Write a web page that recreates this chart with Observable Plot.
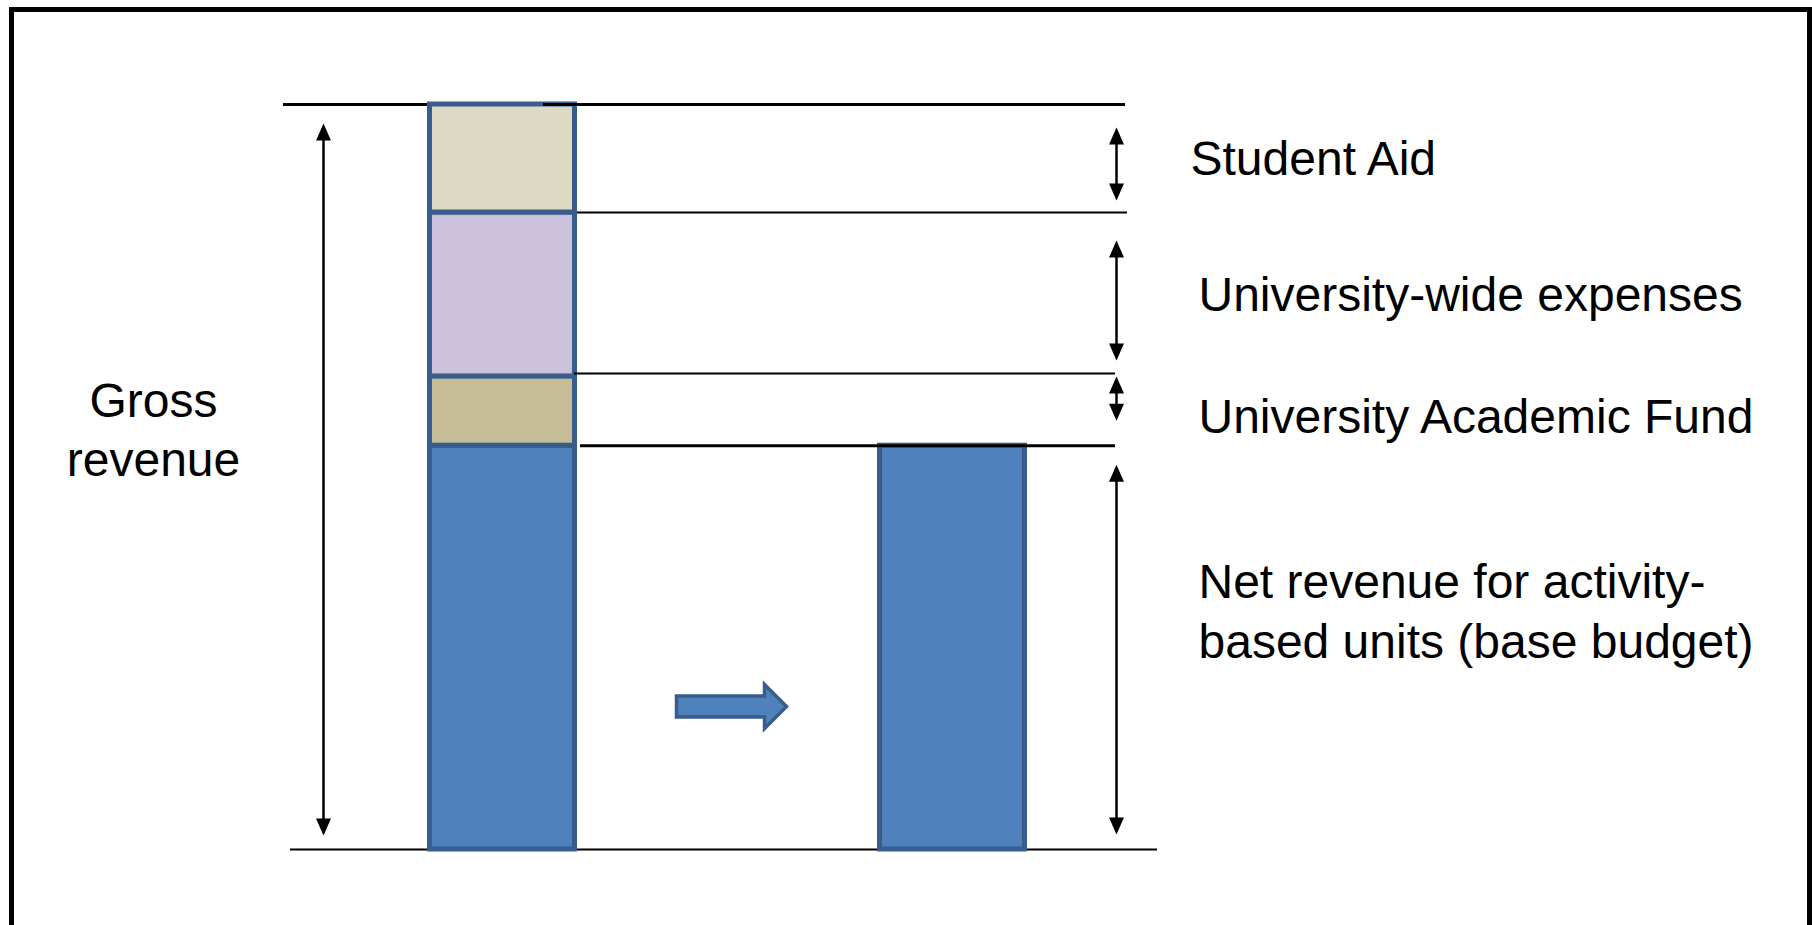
<!DOCTYPE html>
<html>
<head>
<meta charset="utf-8">
<script src="https://cdn.jsdelivr.net/npm/d3@7"></script>
<script src="https://cdn.jsdelivr.net/npm/@observablehq/plot@0.6"></script>
<style>
  html, body { margin: 0; padding: 0; background: #fff; overflow: hidden; }
  #slide { position: absolute; left: 9px; top: 7px; width: 1803px; height: 1000px; box-sizing: border-box; border: 5px solid #000; }
  #chart { position: absolute; left: 0; top: 0; }
</style>
</head>
<body>
<div id="slide"></div>
<div id="chart"></div>
<script>
// Columns of the diagram: the gross revenue stack, the transfer arrow, the net bar
const columns = ["Gross revenue", "Transfer", "Net revenue"];

// Components of gross revenue, bottom to top (share of gross revenue, %)
const segments = ["Net revenue", "University Academic Fund", "University-wide expenses", "Student Aid"];
const shares = [54.2, 9.3, 22.0, 14.5];
const segmentLabels = [
  "Net revenue for activity-\nbased units (base budget)",
  "University Academic Fund",
  "University-wide expenses",
  "Student Aid"
];
const grossLabel = "Gross\nrevenue";

// Fill colours of the segments, in the same order
const palette = ["#4F81BD", "#C4BD97", "#CCC1DA", "#DDD9C3"];
const outline = "#385D8A";

const total = d3.sum(shares);
const tops = Array.from(d3.cumsum(shares));
const bottoms = [0, ...tops.slice(0, -1)];

const stackRows = segments.map((segment, i) => ({column: columns[0], segment, share: shares[i]}));
const netRow = {column: columns[2], segment: segments[0], share: shares[0]};

// Filled arrowhead, tip at the origin, pointing up
const arrowHead = {
  draw(ctx) {
    ctx.moveTo(0, 0);
    ctx.lineTo(7.5, 17);
    ctx.lineTo(-7.5, 17);
    ctx.closePath();
  }
};

// Block arrow pointing right, centred on the origin
const blockArrow = {
  draw(ctx) {
    ctx.moveTo(-55, -10.5);
    ctx.lineTo(33, -10.5);
    ctx.lineTo(33, -22);
    ctx.lineTo(55, 0);
    ctx.lineTo(33, 22);
    ctx.lineTo(33, 10.5);
    ctx.lineTo(-55, 10.5);
    ctx.closePath();
  }
};

// Horizontal guide line at a value, extended beyond the plot area by insets
const guide = (y, insetLeft, insetRight, strokeWidth, dy = 0) =>
  Plot.ruleY([y], {insetLeft, insetRight, strokeWidth, dy, stroke: "#000"});

// Double-headed dimension arrows spanning a range of the stack
const spans = [
  {column: columns[0], lo: 0, hi: total, dx: -179, top: 19, bottom: 14},
  {column: columns[2], lo: bottoms[3], hi: tops[3], dx: 164, top: 23, bottom: 12},
  {column: columns[2], lo: bottoms[2], hi: tops[2], dx: 164, top: 28, bottom: 16},
  {column: columns[2], lo: bottoms[1], hi: tops[1], dx: 164, top: 0, bottom: 25},
  {column: columns[2], lo: bottoms[0], hi: tops[0], dx: 164, top: 19, bottom: 15}
];
const dimension = (s) => [
  Plot.ruleX([s], {x: "column", y1: "hi", y2: "lo", dx: s.dx, insetTop: s.top + 4, insetBottom: s.bottom + 4, stroke: "#000", strokeWidth: 2.5}),
  Plot.dot([s], {x: "column", y: "hi", dx: s.dx, dy: s.top, symbol: arrowHead, fill: "#000", stroke: "none"}),
  Plot.dot([s], {x: "column", y: "lo", dx: s.dx, dy: -s.bottom, rotate: 180, symbol: arrowHead, fill: "#000", stroke: "none"})
];

// Label placement next to each segment
const labelOffsets = [
  {dx: 246, dy: -39},
  {dx: 246, dy: 3},
  {dx: 246, dy: -3},
  {dx: 238, dy: -3}
];
const textStyle = {fontSize: 48, fill: "#000", lineHeight: 1.25};

const chart = Plot.plot({
  width: 1812,
  height: 925,
  marginLeft: 427,
  marginRight: 785,
  marginTop: 104,
  marginBottom: 76,
  x: {type: "band", domain: columns, paddingInner: 1 / 3, paddingOuter: 0, round: false, axis: null},
  y: {domain: [0, total], axis: null},
  color: {domain: segments, range: palette},
  style: {background: "transparent", fontFamily: "'Liberation Sans', Arial, sans-serif", overflow: "visible"},
  marks: [
    // guides passing behind the bars
    guide(total, -144, -98, 3),
    guide(0, -137, -130, 2),
    // gross revenue stack and the resulting net revenue bar
    Plot.barY([...stackRows, netRow], {
      x: "column", y: "share", fill: "segment",
      stroke: outline, strokeWidth: 5, insetLeft: 2.5, insetRight: 2.5
    }),
    // guides drawn over the bars
    guide(total, 116, -98, 3),
    guide(tops[2], 150, -100, 2),
    guide(tops[1], 147, -88, 2, -3),
    guide(tops[0], 153, -88, 3),
    // dimension arrows
    ...spans.flatMap(dimension),
    // transfer arrow between the two bars
    Plot.dot([{column: columns[1]}], {
      x: "column", frameAnchor: "bottom", dx: 4, dy: -143,
      symbol: blockArrow, fill: palette[0], stroke: outline, strokeWidth: 3.5
    }),
    // labels
    Plot.text([grossLabel], {
      x: () => columns[0], y: () => total / 2, text: (d) => d,
      dx: -349, dy: -49, textAnchor: "middle", ...textStyle, lineHeight: 1.22
    }),
    ...segmentLabels.map((label, i) => Plot.text([label], {
      x: () => columns[2], y: () => (bottoms[i] + tops[i]) / 2, text: (d) => d,
      dx: labelOffsets[i].dx, dy: labelOffsets[i].dy, textAnchor: "start", ...textStyle
    }))
  ]
});

document.getElementById("chart").appendChild(chart);
</script>
</body>
</html>
